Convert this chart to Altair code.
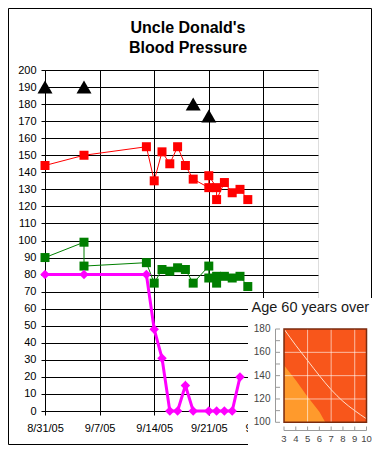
import altair as alt
import pandas as pd

# ---------------- main chart data ----------------
red_dates = ["2005-08-31", "2005-09-05", "2005-09-13", "2005-09-14", "2005-09-15", "2005-09-16",
             "2005-09-17", "2005-09-18", "2005-09-19", "2005-09-21", "2005-09-21", "2005-09-22",
             "2005-09-22", "2005-09-23", "2005-09-24", "2005-09-25", "2005-09-26"]
red_values = [144, 150, 155, 135, 152, 145, 155, 144, 136, 131, 138, 131, 124, 134, 128, 130, 124]

green_dates = ["2005-08-31", "2005-09-05", "2005-09-05", "2005-09-13", "2005-09-14", "2005-09-15",
               "2005-09-16", "2005-09-17", "2005-09-18", "2005-09-19", "2005-09-21", "2005-09-21",
               "2005-09-22", "2005-09-22", "2005-09-23", "2005-09-24", "2005-09-25", "2005-09-26"]
green_values = [90, 99, 85, 87, 75, 83, 82, 84, 83, 75, 85, 78, 79, 75, 79, 78, 79, 73]

magenta_dates = ["2005-08-31", "2005-09-05", "2005-09-13", "2005-09-14", "2005-09-15", "2005-09-16",
                 "2005-09-17", "2005-09-18", "2005-09-19", "2005-09-21", "2005-09-22", "2005-09-23",
                 "2005-09-24", "2005-09-25"]
magenta_values = [80, 80, 80, 48, 31, 0, 0, 15, 0, 0, 0, 0, 0, 20]

triangle_dates = ["2005-08-31", "2005-09-05", "2005-09-19", "2005-09-21"]
triangle_values = [190, 190, 180, 173]

start_date = "2005-08-31"
x_tick_days = [0, 7, 14, 21, 28]
x_tick_labels = ["8/31/05", "9/7/05", "9/14/05", "9/21/05", "9/28/05"]
y_ticks = [0, 10, 20, 30, 40, 50, 60, 70, 80, 90, 100, 110, 120, 130, 140, 150, 160, 170, 180, 190, 200]
title_text = "Uncle Donald's\nBlood Pressure"

# ---------------- inset data ----------------
inset_title = "Age 60 years over"
inset_tc_range = [3, 10]
inset_sbp_range = [100, 180]
light_tc = [3, 4, 5, 6, 6.5]
light_sbp = [149, 136, 122, 109, 100]
curve_tc = [3, 4, 5, 6, 7, 8, 9, 10]
curve_sbp = [180, 166, 153, 140, 128, 118, 110, 103]
grid_tc = [5, 7, 9]
grid_sbp = [120, 140, 160]
inset_y_labels = [100, 120, 140, 160, 180]
inset_y_ticks = [100, 110, 120, 130, 140, 150, 160, 170, 180]
inset_x_labels = [3, 4, 5, 6, 7, 8, 9, 10]


def series(dates, values):
    d = pd.DataFrame({"date": pd.to_datetime(dates), "value": values})
    d["day"] = (d["date"] - pd.Timestamp(start_date)).dt.days
    d["order"] = range(len(d))
    return d[["day", "value", "order"]]


W, H = 273, 341
FONT = "Liberation Sans"

label_expr = "[" + ",".join("'%s'" % s for s in x_tick_labels) + "][round(datum.value/7)]"
xs = alt.Scale(domain=[0, 35], nice=False, zero=False)
ys = alt.Scale(domain=[0, 200], nice=False)
x_enc = alt.X("day:Q", scale=xs, title=None,
              axis=alt.Axis(values=x_tick_days, labelExpr=label_expr, grid=True, zindex=0,
                            tickSize=4, labelPadding=7, labelFont=FONT, labelFontSize=11,
                            labelColor="black", domainColor="black", tickColor="black",
                            gridColor="black", gridOpacity=1, labelFlush=False, labelOverlap=False))
y_enc = alt.Y("value:Q", scale=ys, title=None,
              axis=alt.Axis(values=y_ticks, grid=True, zindex=0, tickSize=4, labelPadding=5,
                            labelFont=FONT, labelFontSize=11, labelColor="black",
                            domainColor="black", tickColor="black", gridColor="black",
                            gridOpacity=1, labelFlush=False, labelOverlap=False))

red = series(red_dates, red_values)
green = series(green_dates, green_values)
mag = series(magenta_dates, magenta_values)
tri = series(triangle_dates, triangle_values)

one = pd.DataFrame({"k": [0]})
border = alt.Chart(one).mark_rect(
    fillOpacity=0, stroke="black", strokeWidth=1
).encode(x=alt.value(-36.5), x2=alt.value(326.5), y=alt.value(-61.5), y2=alt.value(374.5))

title = alt.Chart(pd.DataFrame({"t": [title_text]})).mark_text(
    align="center", baseline="alphabetic", font=FONT, fontSize=16, fontWeight="bold",
    lineBreak="\n", lineHeight=20, color="black"
).encode(x=alt.value(143), y=alt.value(-37), text="t:N")

red_line = alt.Chart(red).mark_line(color="#FF0000", strokeWidth=1).encode(x=x_enc, y=y_enc, order="order:Q")
red_pts = alt.Chart(red).mark_point(shape="square", filled=True, size=81, color="#FF0000", opacity=1).encode(x=x_enc, y=y_enc)
green_line = alt.Chart(green).mark_line(color="#007F00", strokeWidth=1).encode(x=x_enc, y=y_enc, order="order:Q")
green_pts = alt.Chart(green).mark_point(shape="square", filled=True, size=81, color="#007F00", opacity=1).encode(x=x_enc, y=y_enc)
mag_line = alt.Chart(mag).mark_line(color="#FF00FF", strokeWidth=3).encode(x=x_enc, y=y_enc, order="order:Q")
mag_pts = alt.Chart(mag).mark_point(shape="diamond", filled=True, size=90, color="#FF00FF", opacity=1).encode(x=x_enc, y=y_enc)
tri_pts = alt.Chart(tri).mark_point(shape="triangle-up", filled=True, size=225, color="black", opacity=1).encode(x=x_enc, y=y_enc)

main = alt.layer(border, title, red_line, green_line, mag_line, red_pts, green_pts, mag_pts, tri_pts)

# ---------------- inset (independent scales placed inside the frame) ----------------
ixs = alt.Scale(domain=[-17.279, 5.884], nice=False, zero=False)
iys = alt.Scale(domain=[109.69, 402.1], nice=False, zero=False)


def IX(f):
    return alt.X(f, type="quantitative", scale=ixs, axis=None)


def IY(f):
    return alt.Y(f, type="quantitative", scale=iys, axis=None)


bg = alt.Chart(one).mark_rect(fill="white", strokeWidth=0).encode(
    x=alt.value(203), x2=alt.value(340), y=alt.value(228), y2=alt.value(390))

box_df = pd.DataFrame({"x0": [inset_tc_range[0]], "x1": [inset_tc_range[1]],
                       "y0": [inset_sbp_range[0]], "y1": [inset_sbp_range[1]]})
box = alt.Chart(box_df).mark_rect(fill="#F8561B").encode(x=IX("x0"), x2=alt.X2("x1"), y=IY("y0"), y2=alt.Y2("y1"))
light_df = pd.DataFrame({"tc": light_tc, "sbp": light_sbp, "base": [inset_sbp_range[0]] * len(light_tc)})
light = alt.Chart(light_df).mark_area(color="#FF9A2C", opacity=1).encode(x=IX("tc"), y=IY("sbp"), y2=alt.Y2("base"))

vgrid_df = pd.DataFrame({"tc": grid_tc, "lo": [inset_sbp_range[0]] * 3, "hi": [inset_sbp_range[1]] * 3})
vgrid = alt.Chart(vgrid_df).mark_rule(color="white", strokeWidth=1, opacity=0.6).encode(x=IX("tc"), y=IY("lo"), y2=alt.Y2("hi"))
hgrid_df = pd.DataFrame({"sbp": grid_sbp, "lo": [inset_tc_range[0]] * 3, "hi": [inset_tc_range[1]] * 3})
hgrid = alt.Chart(hgrid_df).mark_rule(color="white", strokeWidth=1, opacity=0.6).encode(y=IY("sbp"), x=IX("lo"), x2=alt.X2("hi"))
curve = alt.Chart(pd.DataFrame({"tc": curve_tc, "sbp": curve_sbp})).mark_line(
    color="#FFE0CC", strokeWidth=1, interpolate="monotone").encode(x=IX("tc"), y=IY("sbp"))
frame = alt.Chart(box_df).mark_rect(fillOpacity=0, stroke="#7A2A0E", strokeWidth=1.5).encode(
    x=IX("x0"), x2=alt.X2("x1"), y=IY("y0"), y2=alt.Y2("y1"))

yaxis_df = pd.DataFrame({"lo": [inset_sbp_range[0]], "hi": [inset_sbp_range[1]]})
iyaxis = alt.Chart(yaxis_df).mark_rule(color="#9A9A9A", strokeWidth=1).encode(
    x=alt.value(230.5), y=IY("lo"), y2=alt.Y2("hi"))
iyticks = alt.Chart(pd.DataFrame({"v": inset_y_ticks})).mark_rule(color="#9A9A9A", strokeWidth=1).encode(
    x=alt.value(230.5), x2=alt.value(235), y=IY("v"))
iylabels = alt.Chart(pd.DataFrame({"v": inset_y_labels})).mark_text(
    align="right", baseline="middle", font=FONT, fontSize=10, color="#444444").encode(
    x=alt.value(225.5), y=IY("v"), text="v:Q")

xaxis_df = pd.DataFrame({"lo": [inset_tc_range[0]], "hi": [inset_tc_range[1]]})
ixaxis = alt.Chart(xaxis_df).mark_rule(color="#9A9A9A", strokeWidth=1).encode(
    y=alt.value(360.5), x=IX("lo"), x2=alt.X2("hi"))
ixticks = alt.Chart(pd.DataFrame({"v": inset_x_labels})).mark_rule(color="#9A9A9A", strokeWidth=1).encode(
    y=alt.value(356.5), y2=alt.value(360.5), x=IX("v"))
ixlabels = alt.Chart(pd.DataFrame({"v": inset_x_labels})).mark_text(
    align="center", baseline="middle", font=FONT, fontSize=9.5, color="#444444").encode(
    y=alt.value(368.5), x=IX("v"), text="v:Q")
ititle = alt.Chart(pd.DataFrame({"t": [inset_title]})).mark_text(
    align="left", baseline="alphabetic", font=FONT, fontSize=14.5, color="#1A1A1A").encode(
    x=alt.value(206.5), y=alt.value(241.7), text="t:N")

inset = alt.layer(bg, box, light, vgrid, hgrid, curve, frame, iyaxis, iyticks, iylabels,
                  ixaxis, ixticks, ixlabels, ititle)

chart = alt.layer(main, inset).resolve_scale(x="independent", y="independent").properties(
    width=W, height=H,
    autosize=alt.AutoSizeParams(type="none"),
    padding={"left": 37, "top": 62, "right": 54, "bottom": 34},
).configure_view(fill="#C0C0C0", stroke="#707070", strokeWidth=1).configure(background="white")

chart.save("out.html", embed_options={"renderer": "svg", "actions": False})
